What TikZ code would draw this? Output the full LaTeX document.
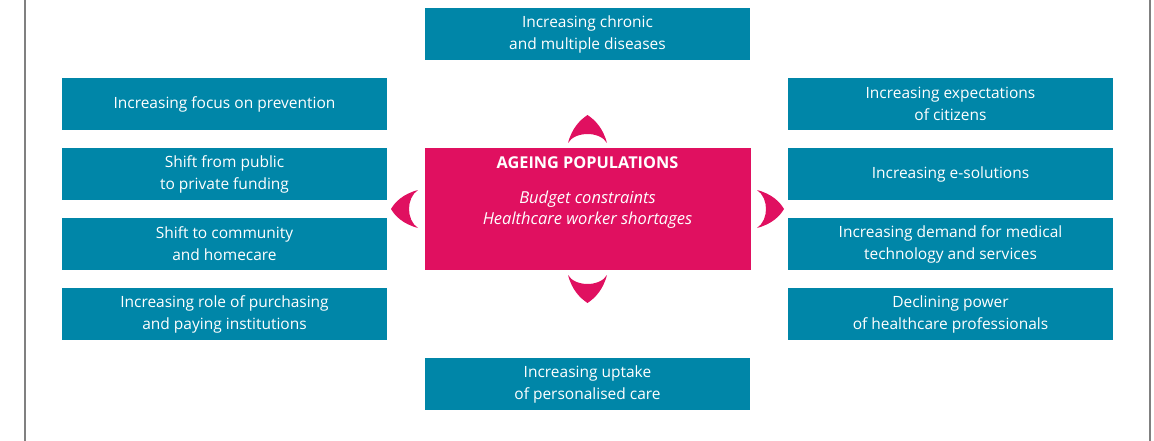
\documentclass[tikz,border=0pt]{standalone}
\usepackage{fontspec}
\setmainfont{Open Sans}
\definecolor{teal}{RGB}{0,134,168}
\definecolor{pink}{RGB}{224,16,96}
\definecolor{frame}{RGB}{128,128,128}
\begin{document}
\begin{tikzpicture}[x=1pt,y=-1pt,
  factor/.style={fill=teal,text=white,minimum width=325pt,minimum height=52pt,
    inner sep=0pt,align=center,font=\fontsize{15.5}{22}\selectfont},
  core/.style={fill=pink,minimum width=326pt,minimum height=121pt,inner sep=0pt},
  crescent/.style={fill=pink}]
\useasboundingbox (0,0) rectangle (1154,441);
% side rules
\draw[frame,line width=2pt] (25,0) -- (25,441);
\draw[frame,line width=2pt] (1150,0) -- (1150,441);
% centre block
\node[core] (core) at (587.5,209) {};
\node[text=white,font=\fontsize{16.3}{22}\selectfont\bfseries] (title) at (587.5,163) {AGEING POPULATIONS};
\node[text=white,align=center,font=\fontsize{16.5}{21}\selectfont\itshape] (sub) at (587.5,209.5) {Budget constraints\\Healthcare worker shortages};
% factors
\node[factor] (top) at (587.5,34) {Increasing chronic\\and multiple diseases};
\node[factor] (bot) at (587.5,384) {Increasing uptake\\of personalised care};
\node[factor] (l1) at (224.5,104) {Increasing focus on prevention};
\node[factor] (l2) at (224.5,174) {Shift from public\\to private funding};
\node[factor] (l3) at (224.5,244) {Shift to community\\and homecare};
\node[factor] (l4) at (224.5,314) {Increasing role of purchasing\\and paying institutions};
\node[factor] (r1) at (950.5,104) {Increasing expectations\\of citizens};
\node[factor] (r2) at (950.5,174) {Increasing e-solutions};
\node[factor] (r3) at (950.5,244) {Increasing demand for medical\\technology and services};
\node[factor] (r4) at (950.5,314) {Declining power\\of healthcare professionals};
% crescent pointers around the centre block
\fill[crescent] (568,143) .. controls (572,128) and (580,120) .. (587.5,115)
  .. controls (595,120) and (603,128) .. (607,143)
  .. controls (600,131) and (575,131) .. cycle;
\fill[crescent] (568,275) .. controls (575,287) and (600,287) .. (607,275)
  .. controls (603,290) and (595,298) .. (587.5,303)
  .. controls (580,298) and (572,290) .. cycle;
\fill[crescent] (418,190) .. controls (403,194) and (395,202) .. (391,209)
  .. controls (395,216) and (403,224) .. (418,228)
  .. controls (406,220) and (406,198) .. cycle;
\fill[crescent] (757,190) .. controls (772,194) and (780,202) .. (784,209)
  .. controls (780,216) and (772,224) .. (757,228)
  .. controls (769,220) and (769,198) .. cycle;
\end{tikzpicture}
\end{document}
